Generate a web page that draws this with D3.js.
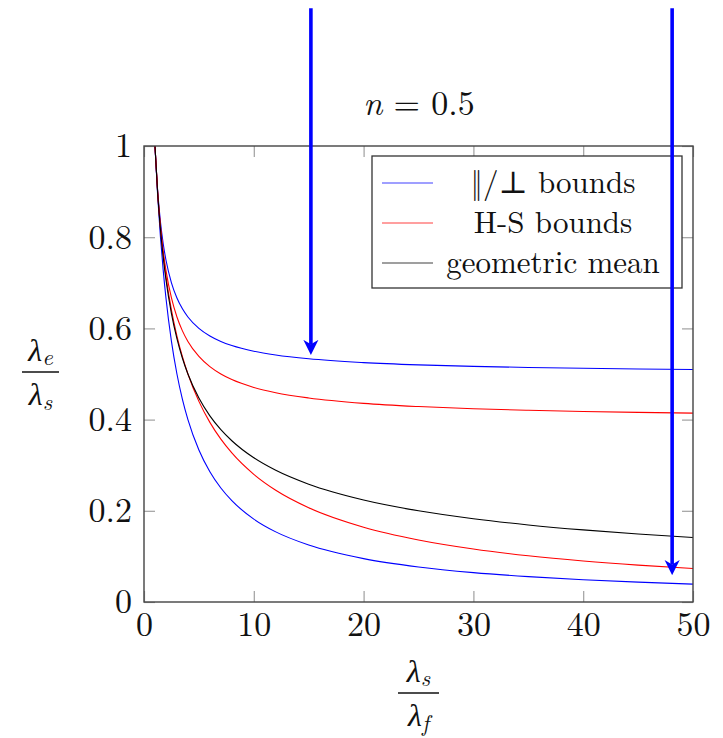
<!DOCTYPE html>
<html><head><meta charset="utf-8">
<script src="https://cdn.jsdelivr.net/npm/d3@7"></script>
<style>body{margin:0;background:#fff}svg{display:block}
svg text{font-family:"Latin Modern Roman","CMU Serif","Liberation Serif","DejaVu Serif",serif;}
</style>
</head><body>
<svg id="c" width="723" height="738"></svg>
<script>
// ratio lambda_s / lambda_f
const ratio = [1, 1.25, 1.5, 1.75, 2, 2.5, 3, 3.5, 4, 5, 6, 7, 8, 10, 12, 15, 20, 25, 30, 35, 40, 45, 50];
// parallel / perpendicular bounds
const parallelUpper = [1, 0.9, 0.8333, 0.7857, 0.75, 0.7, 0.6667, 0.6429, 0.625, 0.6, 0.5833, 0.5714, 0.5625, 0.55, 0.5417, 0.5333, 0.525, 0.52, 0.5167, 0.5143, 0.5125, 0.5111, 0.51];
const perpLower = [1, 0.8889, 0.8, 0.7273, 0.6667, 0.5714, 0.5, 0.4444, 0.4, 0.3333, 0.2857, 0.25, 0.2222, 0.1818, 0.1538, 0.125, 0.0952, 0.0769, 0.0645, 0.0556, 0.0488, 0.0435, 0.0392];
// Hashin-Shtrikman bounds
const hsUpper = [1, 0.8966, 0.8235, 0.7692, 0.7273, 0.6667, 0.625, 0.5946, 0.5714, 0.5385, 0.5161, 0.5, 0.4878, 0.4706, 0.459, 0.4474, 0.4356, 0.4286, 0.4238, 0.4205, 0.4179, 0.4159, 0.4143];
const hsLower = [1, 0.896, 0.8205, 0.7619, 0.7143, 0.64, 0.5833, 0.5378, 0.5, 0.44, 0.3939, 0.3571, 0.3269, 0.28, 0.2451, 0.2067, 0.164, 0.136, 0.1162, 0.1014, 0.09, 0.0809, 0.0735];
// geometric mean
const geoMean = [1, 0.8944, 0.8165, 0.7559, 0.7071, 0.6325, 0.5774, 0.5345, 0.5, 0.4472, 0.4082, 0.378, 0.3536, 0.3162, 0.2887, 0.2582, 0.2236, 0.2, 0.1826, 0.169, 0.1581, 0.1491, 0.1414];

const xTicks = [0, 10, 20, 30, 40, 50];
const yTicks = [0, 0.2, 0.4, 0.6, 0.8, 1];
const yTickLabels = ["0", "0.2", "0.4", "0.6", "0.8", "1"];
const legendLabels = ["\u2016/\u22A5 bounds", "H-S bounds", "geometric mean"];
const legendColors = ["#0000ff", "#ff0000", "#000000"];
const titleN = "0.5";
// annotation arrows (data coords)
const arrowX = [15.2, 48.1];
const arrowTipY = [0.542, 0.059];
const arrowTopY = 1.302;

const svg = d3.select("#c");
const L = 144, R = 693, T = 146, B = 602;
const x = d3.scaleLinear().domain([0, 50]).range([L, R]);
const y = d3.scaleLinear().domain([0, 1]).range([B, T]);
const tickLen = 11;

// ticks (inside, all sides)
const gx = svg.append("g").attr("transform", `translate(0,${B})`)
  .call(d3.axisBottom(x).tickValues(xTicks).tickSizeInner(-tickLen).tickSizeOuter(0).tickPadding(10));
const gxt = svg.append("g").attr("transform", `translate(0,${T})`)
  .call(d3.axisTop(x).tickValues(xTicks).tickSizeInner(-tickLen).tickSizeOuter(0).tickFormat(""));
const gy = svg.append("g").attr("transform", `translate(${L},0)`)
  .call(d3.axisLeft(y).tickValues(yTicks).tickSizeInner(-tickLen).tickSizeOuter(0).tickPadding(12)
    .tickFormat((d, i) => yTickLabels[i]));
const gyr = svg.append("g").attr("transform", `translate(${R},0)`)
  .call(d3.axisRight(y).tickValues(yTicks).tickSizeInner(-tickLen).tickSizeOuter(0).tickFormat(""));
[gx, gxt, gy, gyr].forEach(g => {
  g.attr("font-family", null).attr("font-size", null);
  g.select(".domain").remove();
  g.selectAll(".tick line").attr("stroke", "#a0a0a0").attr("stroke-width", 1.2);
  g.selectAll(".tick text").style("font-size", "34px").attr("fill", "#111");
});
gx.selectAll(".tick text").attr("dy", "0.71em");

// curves
const line = d3.line().x((d, i) => x(ratio[i])).y(d => y(d)).curve(d3.curveMonotoneX);
const series = [
  [parallelUpper, legendColors[0]], [perpLower, legendColors[0]],
  [hsUpper, legendColors[1]], [hsLower, legendColors[1]],
  [geoMean, legendColors[2]]
];
series.forEach(([vals, col]) => {
  svg.append("path").attr("d", line(vals)).attr("fill", "none")
    .attr("stroke", col).attr("stroke-width", 1.1);
});

// frame
svg.append("rect").attr("x", L).attr("y", T).attr("width", R - L).attr("height", B - T)
  .attr("fill", "none").attr("stroke", "#444").attr("stroke-width", 1.4);

// legend
const lg = svg.append("g");
lg.append("rect").attr("x", 372).attr("y", 156).attr("width", 310).attr("height", 132)
  .attr("fill", "#fff").attr("stroke", "#333").attr("stroke-width", 1.3);
legendLabels.forEach((lab, i) => {
  const cy = 183 + i * 40;
  lg.append("line").attr("x1", 382).attr("x2", 433).attr("y1", cy).attr("y2", cy)
    .attr("stroke", legendColors[i]).attr("stroke-width", 1.1).attr("stroke-opacity", 0.75);
  lg.append("text").attr("x", 553).attr("y", cy + 10).attr("text-anchor", "middle")
    .style("font-size", "31px").attr("fill", "#111").text(lab);
});

// title
const tt = svg.append("text").attr("x", 419).attr("y", 115).attr("text-anchor", "middle")
  .style("font-size", "34px").attr("fill", "#111");
tt.append("tspan").style("font-style", "italic").text("n");
tt.append("tspan").text(" = " + titleN);

// axis labels (fractions)
function frac(cx, barY, halfW, num, numSub, den, denSub) {
  const g = svg.append("g");
  const t1 = g.append("text").attr("x", cx).attr("y", barY - 11).attr("text-anchor", "middle")
    .style("font-size", "32px").style("font-style", "italic").attr("fill", "#111");
  t1.append("tspan").text(num);
  t1.append("tspan").style("font-size", "23px").attr("dy", 4).text(numSub);
  const t2 = g.append("text").attr("x", cx).attr("y", barY + 33).attr("text-anchor", "middle")
    .style("font-size", "32px").style("font-style", "italic").attr("fill", "#111");
  t2.append("tspan").text(den);
  t2.append("tspan").style("font-size", "23px").attr("dy", 5).text(denSub);
  g.append("line").attr("x1", cx - halfW).attr("x2", cx + halfW).attr("y1", barY).attr("y2", barY)
    .attr("stroke", "#111").attr("stroke-width", 1.4);
}
frac(40.5, 372, 18.5, "\u03BB", "e", "\u03BB", "s");
frac(418.5, 693, 20.5, "\u03BB", "s", "\u03BB", "f");

// arrows
const defs = svg.append("defs");
defs.append("marker").attr("id", "ah").attr("viewBox", "0 0 10 10").attr("refX", 3).attr("refY", 5)
  .attr("markerWidth", 4.2).attr("markerHeight", 4.4).attr("orient", "auto").attr("markerUnits", "strokeWidth")
  .append("path").attr("d", "M0,0 L10,5 L0,10 L3,5 Z").attr("fill", "#0000ff");
arrowX.forEach((ax, i) => {
  svg.append("line").attr("x1", x(ax)).attr("x2", x(ax)).attr("y1", y(arrowTopY)).attr("y2", y(arrowTipY[i]) - 10.5)
    .attr("stroke", "#0000ff").attr("stroke-width", 3.6).attr("marker-end", "url(#ah)");
});
</script>
</body></html>
